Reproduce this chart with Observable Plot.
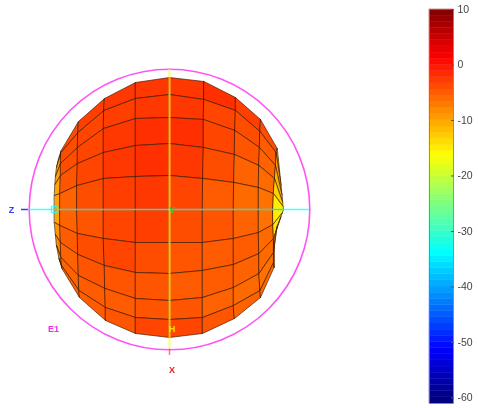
<!DOCTYPE html>
<html><head><meta charset="utf-8">
<script src="https://cdn.jsdelivr.net/npm/d3@7"></script>
<script src="https://cdn.jsdelivr.net/npm/@observablehq/plot@0.6"></script>
<style>
html,body{margin:0;padding:0;background:#fff;width:478px;height:408px;overflow:hidden}
#wrap{position:relative;width:478px;height:408px}
#wrap svg{position:absolute;top:0;filter:blur(.4px)}
</style></head><body><div id="wrap"></div>
<script>
// Mesh nodes: one list per meridian, top to bottom. across = rightwards from the sphere centre, down = downwards.
const meshAcross = [
  [-111,-113,-114,-114.5,-115,-115,-115,-114,-113,-110.5,-107.5],
  [-108.3,-108.5,-109,-109,-109.5,-109.5,-109.5,-109,-108.5,-108,-107],
  [-91,-91.5,-92,-92,-92.5,-92.5,-92,-91.5,-91,-90.5,-90],
  [-65,-65.5,-66,-66,-66,-66,-66,-65,-64.5,-64,-64],
  [-34,-34,-34,-34,-34,-34,-34,-34,-34,-34,-34],
  [0,0,0,0,0,0,0,0,0,0,0],
  [34.5,34.5,34,34,33.5,33,33,33,33,33,33],
  [66,66,65.5,65,64.5,64,64,64,64,64,65],
  [91,90.5,90,89.5,89,89,89,89.5,89.5,90.5,91],
  [107.7,106.5,106,105,104,103.5,103.5,104,104,104,104.5],
  [108,111.6,112.6,113.2,113.6,114,113,111.5,107.5,104.5,105]
];
const meshDown = [
  [-51,-42,-33,-25,-14,0,13,25,36,49,59],
  [-59,-57,-46,-34,-16,0,16,33,48,56,60],
  [-88,-77,-62,-46,-24,0,24,45,66,81,88],
  [-111,-99,-81,-57,-31,0,29,56,79,98,111],
  [-127,-111,-91,-64,-33,0,33,63,89,108,124],
  [-132,-115,-92,-66,-34,0,33,64,91,110,128],
  [-128,-110,-90,-62,-31,0,33,61,88,108,124],
  [-112,-99,-79,-55,-27,0,29,55,78,96,109],
  [-90,-78,-62,-44,-22,0,23,44,64,81,88],
  [-61,-57,-44,-31,-16,0,15,29,43,53,58],
  [-59,-24,-14,-7,-3,0,3,7,17,31,58]
];
// Level (dB) of each mesh cell, rows top to bottom, meridian gaps left to right.
const cellLevels = [
  [-10,-4,-3,-2.5,-2.5,-2.5,-2,-3,-4,-9],
  [-10,-4,-3.5,-3,-2.5,-2.5,-3.5,-4,-5,-10],
  [-10,-4,-3.5,-2.5,-2,-2,-3.5,-4.5,-5.5,-11],
  [-10,-4.5,-3.5,-2.5,-2,-2.5,-4,-5.5,-6,-13],
  [-10,-5.5,-4,-3,-2.5,-3.5,-5,-6,-6.5,-15],
  [-10,-5.5,-4.5,-3.5,-3,-4,-4.5,-5.5,-6.5,-15],
  [-9,-5,-4,-3.5,-4,-4.5,-5,-5,-6,-15],
  [-8,-5.5,-4.5,-4.5,-4.5,-5,-5,-5.5,-6,-12],
  [-8,-5.5,-5,-5,-4.5,-4.5,-5.5,-6,-6.5,-10],
  [-8,-5.5,-5,-4.5,-3.5,-3.5,-4.5,-5.5,-6,-8]
];
const jetStops = [-60,-51.25,-33.75,-16.25,1.25,10];
const jetColors = ["#000080","#0000ff","#00ffff","#ffff00","#ff0000","#800000"];
const barTicks = [10,0,-10,-20,-30,-40,-50,-60];
const barDomain = [-61,10];
const barBands = 64;
const sphereRadius = 140.3;
const labels = [
  {t:"Z",a:-158,d:0.5,c:"#3c3cf0"},
  {t:"X",a:2.5,d:161,c:"#f01818"},
  {t:"E1",a:-116,d:120,c:"#f030e0"},
  {t:"H",a:2.5,d:120,c:"#ffe000"},
  {t:"V",a:2.5,d:0.5,c:"#10e040"}
];

const cells = [];
cellLevels.forEach((row,r)=>row.forEach((v,c)=>{
  const id = r+"-"+c;
  [[c,r],[c+1,r],[c+1,r+1],[c,r+1]].forEach(([m,n])=>
    cells.push({id,v,a:meshAcross[m][n],d:meshDown[m][n]}));
}));
const color = {type:"linear",domain:jetStops,range:jetColors,interpolate:"rgb",clamp:true};

const main = Plot.plot({
  width:420,height:408,margin:0,
  x:{domain:[-169,251],range:[0,420],axis:null},
  y:{domain:[-209,199],range:[0,408],axis:null},
  color,
  marks:[
    Plot.line(cells,{x:"a",y:"d",z:"id",fill:"v",stroke:"#351400",strokeWidth:0.8,strokeOpacity:0.8,curve:"linear-closed"}),
    Plot.dot([0],{x:0,y:0,r:sphereRadius,fill:"none",stroke:"#ff55f5",strokeWidth:1.6}),
    Plot.ruleY([0],{x1:-141,x2:140,stroke:"#22ffff",strokeWidth:1.5,strokeOpacity:0.8}),
    Plot.ruleY([0],{x1:-148,x2:-141,stroke:"#3c3cf0",strokeWidth:1.5}),
    Plot.ruleX([0],{y1:-140,y2:139.5,stroke:"#ffff30",strokeWidth:2,strokeOpacity:0.7}),
    Plot.ruleX([0],{y1:139.5,y2:146,stroke:"#ff5070",strokeWidth:1.5,strokeOpacity:0.8}),
    Plot.dot([0],{x:-115,y:0,r:3.6,symbol:"square",fill:"none",stroke:"#22ffff",strokeWidth:1}),
    Plot.text(labels,{x:"a",y:"d",text:"t",fill:"c",fontSize:9,fontWeight:"bold",fontFamily:"Liberation Sans"})
  ]
});
main.style.left="0px";

const step = (barDomain[1]-barDomain[0])/barBands;
const bands = d3.range(barBands).map(i=>({lo:barDomain[0]+i*step,hi:barDomain[0]+(i+1)*step}));
const bar = Plot.plot({
  width:58,height:408,marginLeft:9,marginRight:25,marginTop:9,marginBottom:5,
  x:{domain:[0,1],axis:null},
  y:{domain:barDomain,axis:null},
  color,
  marks:[
    Plot.rect(bands,{x1:0,x2:1,y1:"lo",y2:"hi",fill:d=>(d.lo+d.hi)/2,stroke:d=>(d.lo+d.hi)/2,strokeWidth:0.4}),
    Plot.frame({stroke:"#7a7a7a",strokeWidth:0.8}),
    Plot.axisY(barTicks,{anchor:"right",tickSize:-3,tickPadding:7,stroke:"#555",fill:"#444",fontSize:10.5,fontFamily:"Liberation Sans",tickFormat:d=>String(d),label:null})
  ]
});
bar.style.left="420px";
document.getElementById("wrap").append(main,bar);
</script></body></html>
